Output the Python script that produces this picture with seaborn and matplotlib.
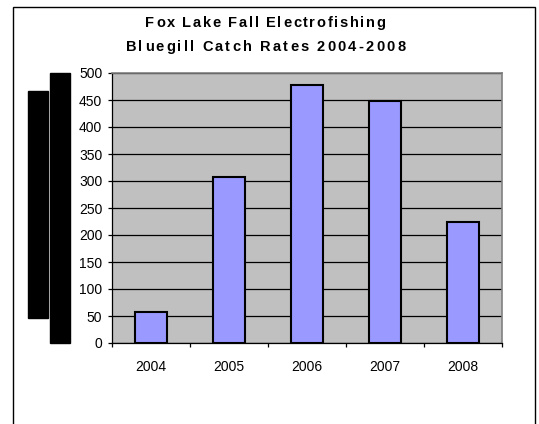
import pandas as pd
import matplotlib.pyplot as plt
import seaborn as sns
from matplotlib.patches import Rectangle

years = ['2004', '2005', '2006', '2007', '2008']
catch_rates = [58, 307, 477, 449, 225]
title_lines = ['Fox Lake Fall Electrofishing', 'Bluegill Catch Rates 2004-2008']

df = pd.DataFrame({'Year': years, 'Rate': catch_rates})

sns.set_style('white')
plt.rcParams['font.family'] = ['Liberation Sans', 'DejaVu Sans']
plt.rcParams['text.color'] = 'black'
plt.rcParams['xtick.color'] = 'black'
plt.rcParams['ytick.color'] = 'black'

fig = plt.figure(figsize=(5.39, 4.24), dpi=100)
W, H = 539, 424
ax = fig.add_axes([112 / W, 1 - 343 / H, (502 - 112) / W, (343 - 73) / H])
ax.set_facecolor('#C0C0C0')

sns.barplot(data=df, x='Year', y='Rate', color='#9999FF', edgecolor='black',
            linewidth=1.5, width=0.42, saturation=1, ax=ax, zorder=3)

ax.set_ylim(0, 500)
ax.set_xlim(-0.5, 4.5)
ax.set_yticks(range(0, 501, 50))
ax.yaxis.grid(True, color='black', linewidth=0.9, zorder=1)
ax.set_axisbelow(True)
ax.tick_params(axis='y', direction='out', length=3, width=0.9,
               labelsize=10, pad=4, left=True)

# ticks between categories, labels at centers
ax.set_xticks([i - 0.5 for i in range(6)])
ax.set_xticklabels([])
ax.set_xticks(range(5), minor=True)
ax.set_xticklabels(years, minor=True)
ax.tick_params(axis='x', which='major', direction='out', length=3, width=0.9,
               bottom=True)
ax.tick_params(axis='x', which='minor', length=0, labelsize=10, pad=12)
ax.set_xlabel('')
ax.set_ylabel('')

for side in ['left', 'bottom']:
    ax.spines[side].set_color('black')
    ax.spines[side].set_linewidth(0.9)
for side in ['top', 'right']:
    ax.spines[side].set_color('#808080')
    ax.spines[side].set_linewidth(1.2)


def tracked_text(s, y_px, size, spacing_px):
    # draw a centered line with extra letter spacing, one glyph at a time
    renderer = fig.canvas.get_renderer()
    widths = []
    for ch in s:
        t = fig.text(0, 0, ch if ch != ' ' else 'i', fontsize=size, fontweight='bold')
        widths.append(t.get_window_extent(renderer).width)
        t.remove()
    total = sum(widths) + spacing_px * (len(s) - 1)
    x = (W - total) / 2 - 4
    for ch, w in zip(s, widths):
        if ch != ' ':
            fig.text(x / W, 1 - y_px / H, ch, fontsize=size, fontweight='bold',
                     ha='left', va='center')
        x += w + spacing_px


tracked_text(title_lines[0], 23, 10.5, 1.7)
tracked_text(title_lines[1], 47, 10.5, 2.2)

# outer chart border
fig.patches.append(Rectangle((13 / W, -0.01), (535 - 13) / W, 1 - 7 / H + 0.01,
                             transform=fig.transFigure, fill=False,
                             edgecolor='black', linewidth=1.0))
# black blocks at left
fig.patches.append(Rectangle((28 / W, 1 - 318 / H), 20 / W, (318 - 91) / H,
                             transform=fig.transFigure, color='black'))
fig.patches.append(Rectangle((50 / W, 1 - 343 / H), 20 / W, (343 - 73) / H,
                             transform=fig.transFigure, color='black'))

fig.savefig('out.png', dpi=100)
